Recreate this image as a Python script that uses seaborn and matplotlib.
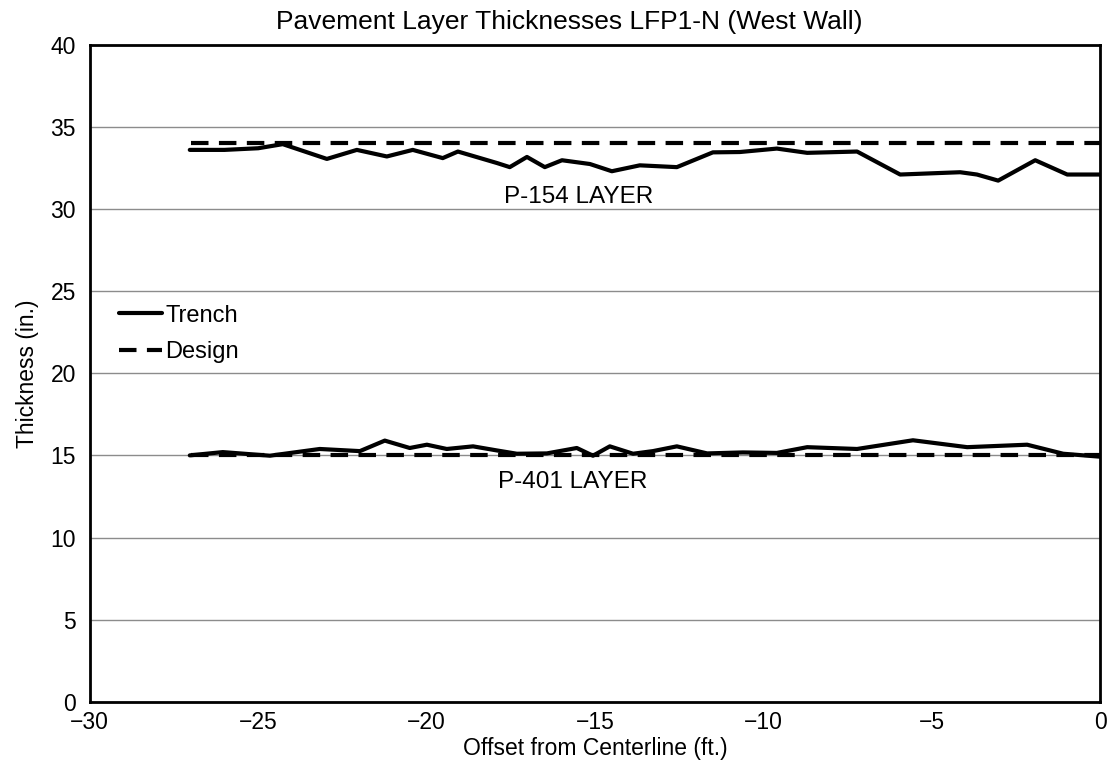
import matplotlib.pyplot as plt
import numpy as np
import pandas as pd
import seaborn as sns

p154_offset = [-27.03, -26.0, -25.0, -24.27, -22.96, -22.07, -21.18, -20.41, -19.52,
               -19.07, -17.91, -17.53, -17.02, -16.49, -15.98, -15.15, -14.50, -13.67,
               -12.57, -11.50, -10.70, -9.60, -8.70, -7.22, -5.94, -4.16, -3.66, -3.03,
               -1.93, -0.98, 0.0]
p154_thick = [33.6, 33.6, 33.7, 33.95, 33.05, 33.6, 33.2, 33.6, 33.1,
              33.5, 32.8, 32.55, 33.17, 32.55, 32.97, 32.74, 32.3, 32.66,
              32.55, 33.45, 33.47, 33.68, 33.42, 33.5, 32.1, 32.24, 32.1, 31.73,
              32.97, 32.1, 32.1]

p401_offset = [-27.03, -26.05, -24.65, -23.17, -21.98, -21.24, -20.50, -19.99, -19.40,
               -18.62, -17.91, -17.32, -16.43, -15.54, -15.06, -14.56, -13.87, -13.28,
               -12.57, -11.67, -10.61, -9.60, -8.70, -7.22, -5.56, -3.95, -2.17, -1.10,
               0.0]
p401_thick = [15.0, 15.2, 14.98, 15.39, 15.26, 15.9, 15.45, 15.65, 15.39,
              15.55, 15.3, 15.1, 15.12, 15.45, 14.98, 15.55, 15.1, 15.26,
              15.55, 15.12, 15.18, 15.15, 15.5, 15.39, 15.92, 15.5, 15.65, 15.1,
              14.92]

design_offset = [-27.0, 0.0]
design_p154 = [34.0, 34.0]
design_p401 = [15.0, 15.0]

sns.set_style("white")
plt.rcParams['font.family'] = ['Liberation Sans', 'DejaVu Sans']
plt.rcParams['text.color'] = 'black'
plt.rcParams['axes.labelcolor'] = 'black'

fig = plt.figure(figsize=(11.08, 7.72), dpi=100)
ax = fig.add_axes([0.081, 0.091, 0.912, 0.851])

trench_style = dict(color='black', linewidth=3.0, solid_joinstyle='round', solid_capstyle='round')
design_style = dict(color='black', linewidth=3.0, dashes=(4.2, 2.5))

sns.lineplot(x=p154_offset, y=p154_thick, ax=ax, label='Trench', **trench_style)
sns.lineplot(x=design_offset, y=design_p154, ax=ax, label='Design', **design_style)
sns.lineplot(x=p401_offset, y=p401_thick, ax=ax, **trench_style)
sns.lineplot(x=design_offset, y=design_p401, ax=ax, **design_style)

ax.set_xlim(-30, 0)
ax.set_ylim(0, 40)
ax.set_xticks(np.arange(-30, 1, 5))
ax.set_yticks(np.arange(0, 41, 5))
ax.set_xticklabels(['\u221230', '\u221225', '\u221220', '\u221215', '\u221210', '\u22125', '0'])
ax.yaxis.grid(True, color='#8c8c8c', linewidth=1.0)
ax.set_axisbelow(True)
for s in ax.spines.values():
    s.set_color('black')
    s.set_linewidth(2.0)
ax.tick_params(axis='y', labelsize=16.5, colors='black', length=0, pad=10)
ax.tick_params(axis='x', labelsize=16.5, colors='black', length=0, pad=7)

ax.set_xlabel('Offset from Centerline (ft.)', fontsize=16.5, labelpad=2)
ax.set_ylabel('Thickness (in.)', fontsize=16.5, labelpad=8)
fig.text(0.514, 0.972, 'Pavement Layer Thicknesses LFP1-N (West Wall)', fontsize=19,
         ha='center', va='center')

ax.text(-15.5, 30.75, 'P-154 LAYER', ha='center', va='center', fontsize=17.5)
ax.text(-15.65, 13.4, 'P-401 LAYER', ha='center', va='center', fontsize=17.5)

ax.legend(loc='center left', bbox_to_anchor=(0.008, 0.56), frameon=False, fontsize=17,
          handlelength=1.8, handletextpad=0.15, labelspacing=0.6)

fig.savefig('out.png', dpi=100)
